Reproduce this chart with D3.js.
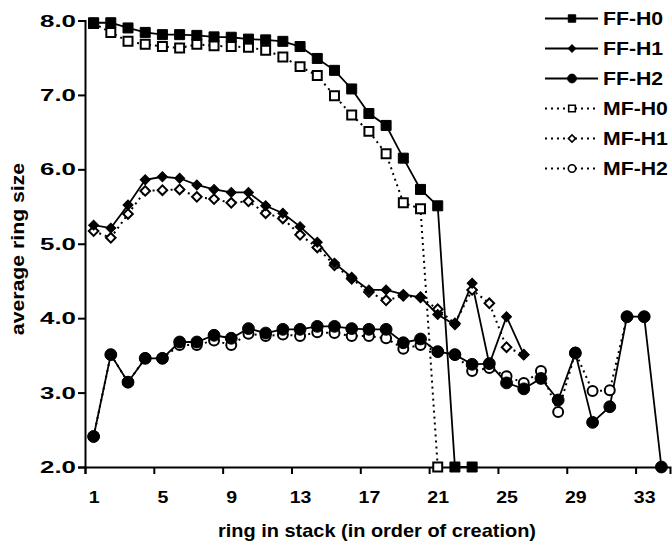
<!DOCTYPE html>
<html>
<head>
<meta charset="utf-8">
<script src="https://d3js.org/d3.v7.min.js"></script>
<style>
  body { margin: 0; background: #fff; }
  text { font-family: "Liberation Sans", Arial, sans-serif; font-weight: bold; fill: #000; }
</style>
</head>
<body>
<svg id="chart" width="672" height="547"></svg>
<script>
// ring index 1..34
const rings = d3.range(1, 35);
const xTickLabels = [1, 5, 9, 13, 17, 21, 25, 29, 33];
const yTickLabels = [2, 3, 4, 5, 6, 7, 8];

const ffH0 = [7.97, 7.97, 7.90, 7.84, 7.81, 7.81, 7.80, 7.78, 7.775, 7.75, 7.74, 7.72, 7.65, 7.49, 7.33, 7.08, 6.75, 6.59, 6.15, 5.73, 5.51, 2.0, 2.0];
const ffH1 = [5.25, 5.21, 5.52, 5.86, 5.90, 5.88, 5.79, 5.73, 5.69, 5.69, 5.51, 5.41, 5.23, 5.02, 4.74, 4.55, 4.38, 4.38, 4.32, 4.28, 4.05, 3.91, 4.47, 3.38, 4.02, 3.51];
const ffH2 = [2.41, 3.51, 3.14, 3.46, 3.46, 3.68, 3.68, 3.77, 3.73, 3.86, 3.80, 3.85, 3.85, 3.89, 3.89, 3.86, 3.85, 3.85, 3.67, 3.72, 3.55, 3.51, 3.38, 3.39, 3.13, 3.05, 3.19, 2.90, 3.53, 2.60, 2.81, 4.02, 4.02, 2.0];
const mfH0 = [7.96, 7.84, 7.72, 7.68, 7.65, 7.63, 7.68, 7.66, 7.65, 7.64, 7.60, 7.51, 7.38, 7.26, 6.99, 6.73, 6.51, 6.21, 5.55, 5.47, 2.0];
const mfH1 = [5.17, 5.08, 5.40, 5.71, 5.72, 5.73, 5.63, 5.60, 5.55, 5.57, 5.41, 5.34, 5.12, 4.95, 4.71, 4.53, 4.35, 4.24, 4.30, 4.28, 4.12, 3.93, 4.38, 4.20, 3.61, 3.51];
const mfH2 = [2.41, 3.51, 3.14, 3.46, 3.46, 3.64, 3.64, 3.70, 3.64, 3.79, 3.76, 3.78, 3.76, 3.81, 3.80, 3.76, 3.76, 3.73, 3.59, 3.64, 3.55, 3.51, 3.29, 3.33, 3.22, 3.13, 3.29, 2.74, 3.54, 3.02, 3.03, 4.02, 4.02];

const legendOrder = ["FF-H0", "FF-H1", "FF-H2", "MF-H0", "MF-H1", "MF-H2"];

const svg = d3.select("#chart");

// rings are categories, ticks sit between them
const x = d3.scaleLinear().domain([0.5, 34.5]).range([85, 670]);
const y = d3.scaleLinear().domain([2, 8]).range([467, 20.5]);

// diamond = square turned 45deg
const series = [
  { name: "MF-H0", values: mfH0, shape: d3.symbolSquare, rot: 0, size: 80, filled: false, dotted: true },
  { name: "MF-H1", values: mfH1, shape: d3.symbolSquare, rot: 45, size: 46, filled: false, dotted: true },
  { name: "MF-H2", values: mfH2, shape: d3.symbolCircle, rot: 0, size: 78, filled: false, dotted: true },
  { name: "FF-H0", values: ffH0, shape: d3.symbolSquare, rot: 0, size: 100, filled: true, dotted: false },
  { name: "FF-H1", values: ffH1, shape: d3.symbolSquare, rot: 45, size: 50, filled: true, dotted: false },
  { name: "FF-H2", values: ffH2, shape: d3.symbolCircle, rot: 0, size: 110, filled: true, dotted: false }
];

// text in the picture is a bit wider than Arial, stretch it a little
function label(parent, tx, ty, str, size, anchor, sx, rot) {
  parent.append("text")
    .attr("transform", `translate(${tx},${ty}) rotate(${rot || 0}) scale(${sx},1)`)
    .attr("text-anchor", anchor)
    .attr("font-size", size)
    .text(str);
}

// axes
const xAxis = svg.append("g").attr("transform", `translate(0,${y(2)})`)
  .call(d3.axisBottom(x).tickValues(d3.range(0.5, 33, 4)).tickSize(7).tickFormat(""));
const yAxis = svg.append("g").attr("transform", `translate(${x(0.5)},0)`)
  .call(d3.axisLeft(y).tickValues(yTickLabels).tickSize(7).tickFormat(""));
[xAxis, yAxis].forEach(g => {
  g.select(".domain").attr("stroke", "#000").attr("stroke-width", 2);
  g.selectAll(".tick line").attr("stroke", "#000").attr("stroke-width", 2);
});

const tickText = svg.append("g");
xTickLabels.forEach(d => label(tickText, x(d) + 0.5, 503, d, 17, "middle", 1.15));
yTickLabels.forEach(d => {
  tickText.append("text")
    .attr("x", 76).attr("y", y(d) + 6)
    .attr("text-anchor", "end").attr("font-size", 17)
    .attr("textLength", 36).attr("lengthAdjust", "spacingAndGlyphs")
    .text(d.toFixed(1));
});

label(svg, 377, 537, "ring in stack (in order of creation)", 19, "middle", 1.05);
label(svg, 24, 249, "average ring size", 18, "middle", 1.18, -90);

// lines
const line = d3.line()
  .defined(d => d != null)
  .x((d, i) => x(rings[i]))
  .y(d => y(d));

series.forEach(s => {
  svg.append("path")
    .attr("d", line(s.values))
    .attr("fill", "none")
    .attr("stroke", "#000")
    .attr("stroke-width", s.dotted ? 2 : 1.8)
    .attr("stroke-dasharray", s.dotted ? "2,4" : null);
});

// markers
series.forEach(s => {
  svg.append("g").selectAll("path")
    .data(s.values.map((v, i) => ({ r: rings[i], v })).filter(d => d.v != null))
    .join("path")
    .attr("transform", d => `translate(${x(d.r)},${y(d.v)}) rotate(${s.rot})`)
    .attr("d", d3.symbol().type(s.shape).size(s.size))
    .attr("fill", s.filled ? "#000" : "#fff")
    .attr("stroke", "#000")
    .attr("stroke-width", s.filled ? 1 : 2);
});

// legend
const legend = svg.append("g");
legendOrder.forEach((name, i) => {
  const s = series.find(d => d.name === name);
  const ly = 18.5 + i * 30;
  legend.append("line")
    .attr("x1", 545).attr("x2", 598).attr("y1", ly).attr("y2", ly)
    .attr("stroke", "#000")
    .attr("stroke-width", s.dotted ? 1.8 : 1.8)
    .attr("stroke-dasharray", s.dotted ? "2,4" : null);
  legend.append("path")
    .attr("transform", `translate(572,${ly}) rotate(${s.rot})`)
    .attr("d", d3.symbol().type(s.shape).size(s.size * 0.55))
    .attr("fill", s.filled ? "#000" : "#fff")
    .attr("stroke", "#000")
    .attr("stroke-width", s.filled ? 1 : 1.6);
  label(legend, 603, ly + 6, name, 18, "start", 1.18);
});
</script>
</body>
</html>
